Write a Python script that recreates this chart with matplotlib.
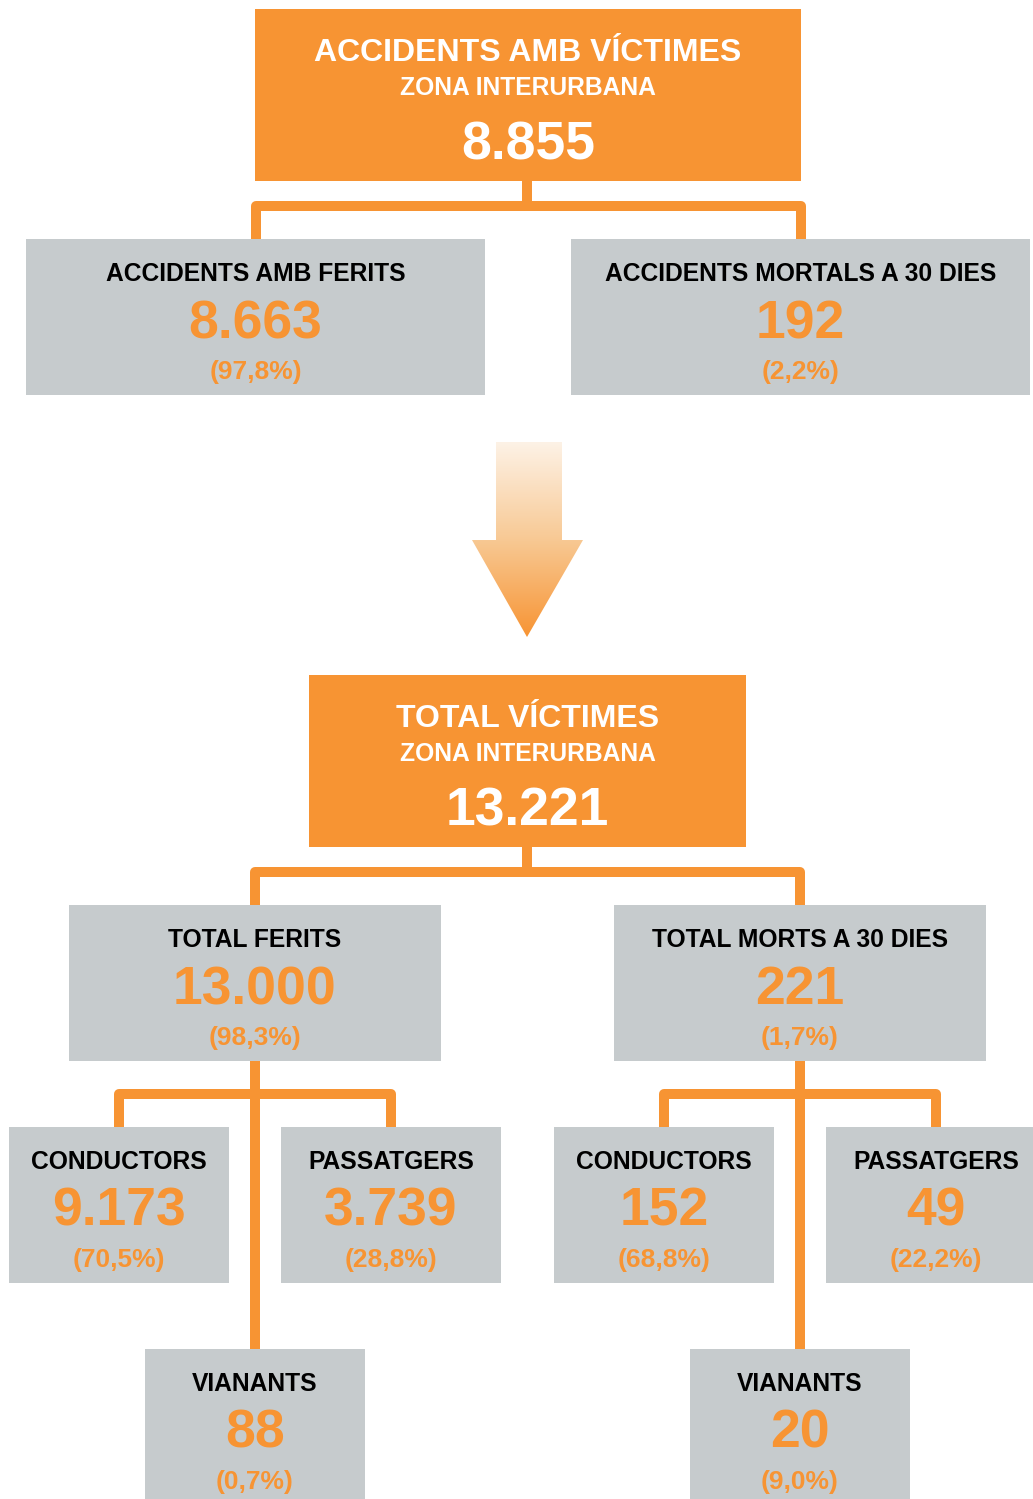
import matplotlib
matplotlib.use("Agg")
import matplotlib.pyplot as plt
import numpy as np
from matplotlib.patches import Rectangle, Polygon
from matplotlib.colors import LinearSegmentedColormap

# chart data
head_titles = ["ACCIDENTS AMB VÍCTIMES", "TOTAL VÍCTIMES"]
head_sub = "ZONA INTERURBANA"
head_values = [8855, 13221]

acc_labels = ["ACCIDENTS AMB FERITS", "ACCIDENTS MORTALS A 30 DIES"]
acc_values = [8663, 192]
acc_pct = [97.8, 2.2]

vic_labels = ["TOTAL FERITS", "TOTAL MORTS A 30 DIES"]
vic_values = [13000, 221]
vic_pct = [98.3, 1.7]

sub_labels = ["CONDUCTORS", "PASSATGERS", "VIANANTS"]
ferits_values = [9173, 3739, 88]
ferits_pct = [70.5, 28.8, 0.7]
morts_values = [152, 49, 20]
morts_pct = [68.8, 22.2, 9.0]

ORANGE = "#f79433"
GRAY = "#c6cbcd"
FONT = "Liberation Sans"
LW = 7.2


def fmt_num(v):
    return f"{v:,}".replace(",", ".")


def fmt_pct(p):
    return "(" + f"{p:.1f}".replace(".", ",") + "%)"


fig = plt.figure(figsize=(10.33, 14.99), dpi=100)
ax = fig.add_axes([0, 0, 1, 1])
ax.set_xlim(0, 1033)
ax.set_ylim(1499, 0)
ax.axis("off")


def orange_box(x0, x1, y0, title, value):
    ax.add_patch(Rectangle((x0, y0), x1 - x0, 172, color=ORANGE, lw=0, zorder=2))
    cx = (x0 + x1) / 2
    ax.text(cx, y0 + 52, title, ha="center", va="baseline", color="white",
            fontsize=23, fontweight="bold", family=FONT, zorder=3)
    ax.text(cx, y0 + 86, head_sub, ha="center", va="baseline", color="white",
            fontsize=17.7, fontweight="bold", family=FONT, zorder=3)
    ax.text(cx, y0 + 150, fmt_num(value), ha="center", va="baseline", color="white",
            fontsize=38.5, fontweight="bold", family=FONT, zorder=3)


def gray_box(cx, w, y0, label, value, pct, h=156):
    ax.add_patch(Rectangle((cx - w / 2, y0), w, h, color=GRAY, lw=0, zorder=2))
    ax.text(cx, y0 + 42, label, ha="center", va="baseline", color="black",
            fontsize=17.7, fontweight="bold", family=FONT, zorder=3)
    ax.text(cx, y0 + 99, fmt_num(value), ha="center", va="baseline", color=ORANGE,
            fontsize=38.5, fontweight="bold", family=FONT, zorder=3)
    ax.text(cx, y0 + 140, fmt_pct(pct), ha="center", va="baseline", color=ORANGE,
            fontsize=19, fontweight="bold", family=FONT, zorder=3)


def connector(xc, y_start, y_h, xl, xr, y_end):
    ax.plot([xc, xc], [y_start, y_h], color=ORANGE, lw=LW, solid_capstyle="butt", zorder=1)
    ax.plot([xl, xl, xr, xr], [y_end, y_h, y_h, y_end], color=ORANGE, lw=LW,
            solid_capstyle="butt", solid_joinstyle="round", zorder=1)


# top block: accidents
orange_box(255, 801, 9, head_titles[0], head_values[0])
connector(527, 181, 206, 255.5, 800.5, 239)
for cx, lab, val, p in zip([255.5, 800.5], acc_labels, acc_values, acc_pct):
    gray_box(cx, 459, 239, lab, val, p)

# gradient arrow
arrow = Polygon([(496, 442), (562, 442), (562, 540), (583, 540), (527, 637),
                 (472, 540), (496, 540)], closed=True, facecolor="none", edgecolor="none")
ax.add_patch(arrow)
cmap = LinearSegmentedColormap.from_list("arr", ["#fdf2e6", "#f8c994", ORANGE])
grad = np.linspace(0, 1, 256).reshape(-1, 1)
im = ax.imshow(grad, cmap=cmap, extent=(472, 583, 637, 442), origin="upper",
               aspect="auto", zorder=2)
im.set_clip_path(arrow)

# bottom block: victims
orange_box(309, 746, 675, head_titles[1], head_values[1])
connector(527, 847, 872, 255, 800, 905)
for cx, lab, val, p in zip([255, 800], vic_labels, vic_values, vic_pct):
    gray_box(cx, 372, 905, lab, val, p)

# third level
for cx, offs, vals, pcts in [(255, (-136, 136), ferits_values, ferits_pct),
                             (800, (-136, 136), morts_values, morts_pct)]:
    connector(cx, 1061, 1094, cx + offs[0], cx + offs[1], 1127)
    ax.plot([cx, cx], [1061, 1349], color=ORANGE, lw=LW, solid_capstyle="butt", zorder=1)
    gray_box(cx + offs[0], 220, 1127, sub_labels[0], vals[0], pcts[0])
    gray_box(cx + offs[1], 220, 1127, sub_labels[1], vals[1], pcts[1])
    gray_box(cx, 220, 1349, sub_labels[2], vals[2], pcts[2], h=160)

fig.savefig("out.png", dpi=100)
